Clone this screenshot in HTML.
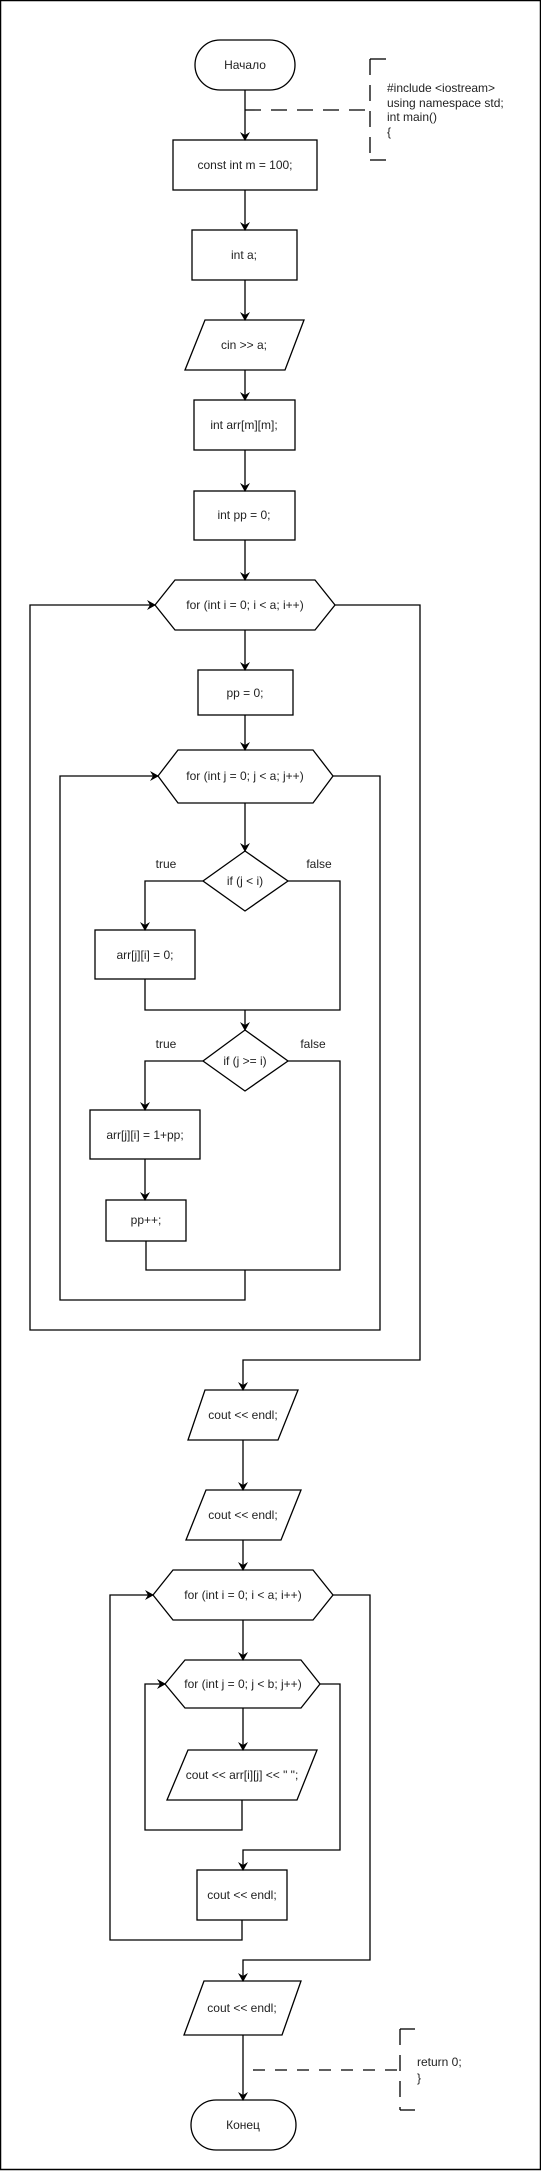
<!DOCTYPE html>
<html><head><meta charset="utf-8"><style>
html,body{margin:0;padding:0;background:#fff;}
svg{display:block;}
text{font-family:"Liberation Sans",Arial,sans-serif;font-size:12px;fill:#222;}
</style></head><body>
<svg width="541" height="2171" viewBox="0 0 541 2171" xmlns="http://www.w3.org/2000/svg">
<defs><marker id="a" markerWidth="10" markerHeight="10" refX="8" refY="5" orient="auto" markerUnits="userSpaceOnUse"><path d="M0,0 L9,5 L0,10 L3,5 Z" fill="#000"/></marker></defs>
<rect x="0.5" y="0.5" width="540" height="2169" fill="none" stroke="#000" stroke-width="1.5"/>
<g fill="#fff" stroke="#000" stroke-width="1.3">
<rect x="195" y="40" width="100" height="50" rx="25"/>
<rect x="173" y="140" width="144" height="50"/>
<rect x="192" y="230" width="105" height="50"/>
<polygon points="205,320 304,320 285,370 185,370"/>
<rect x="194" y="400" width="101" height="50"/>
<rect x="194" y="491" width="101" height="49"/>
<polygon points="155,605 175,580 315,580 335,605 315,630 175,630"/>
<rect x="198" y="670" width="95" height="45"/>
<polygon points="158,776 178,750 313,750 333,776 313,803 178,803"/>
<polygon points="245,851 288,881 245,911 203,881"/>
<rect x="95" y="930" width="100" height="49"/>
<polygon points="245,1030 288,1061 245,1091 203,1061"/>
<rect x="90" y="1110" width="110" height="49"/>
<rect x="106" y="1200" width="80" height="41"/>
<polygon points="205,1390 298,1390 278,1440 188,1440"/>
<polygon points="206,1490 301,1490 281,1540 186,1540"/>
<polygon points="153,1595 173,1570 313,1570 333,1595 313,1620 173,1620"/>
<polygon points="165,1684 185,1660 301,1660 320,1684 301,1708 185,1708"/>
<polygon points="188,1750 317,1750 297,1800 167,1800"/>
<rect x="197" y="1870" width="90" height="50"/>
<polygon points="204,1981 301,1981 282,2035 184,2035"/>
<rect x="191" y="2100" width="105" height="50" rx="25"/>
</g>
<g fill="none" stroke="#000" stroke-width="1.3">
<line x1="245" y1="90" x2="245" y2="140" marker-end="url(#a)"/>
<line x1="245" y1="190" x2="245" y2="230" marker-end="url(#a)"/>
<line x1="245" y1="280" x2="245" y2="320" marker-end="url(#a)"/>
<line x1="245" y1="370" x2="245" y2="400" marker-end="url(#a)"/>
<line x1="245" y1="450" x2="245" y2="491" marker-end="url(#a)"/>
<line x1="245" y1="540" x2="245" y2="580" marker-end="url(#a)"/>
<line x1="245" y1="630" x2="245" y2="670" marker-end="url(#a)"/>
<line x1="245" y1="715" x2="245" y2="750" marker-end="url(#a)"/>
<line x1="245" y1="803" x2="245" y2="851" marker-end="url(#a)"/>
<polyline points="203,881 145,881 145,930" marker-end="url(#a)"/>
<polyline points="145,979 145,1010 340,1010 340,881 288,881"/>
<line x1="245" y1="1010" x2="245" y2="1030" marker-end="url(#a)"/>
<polyline points="203,1061 145,1061 145,1110" marker-end="url(#a)"/>
<line x1="145" y1="1159" x2="145" y2="1200" marker-end="url(#a)"/>
<polyline points="146,1241 146,1270 340,1270 340,1061 288,1061"/>
<polyline points="245,1270 245,1300 60,1300 60,776 158,776" marker-end="url(#a)"/>
<polyline points="333,776 380,776 380,1330 30,1330 30,605 155,605" marker-end="url(#a)"/>
<polyline points="335,605 420,605 420,1360 243,1360 243,1390" marker-end="url(#a)"/>
<line x1="243" y1="1440" x2="243" y2="1490" marker-end="url(#a)"/>
<line x1="243" y1="1540" x2="243" y2="1570" marker-end="url(#a)"/>
<line x1="243" y1="1620" x2="243" y2="1660" marker-end="url(#a)"/>
<line x1="243" y1="1708" x2="243" y2="1750" marker-end="url(#a)"/>
<polyline points="242,1800 242,1830 145,1830 145,1684 165,1684" marker-end="url(#a)"/>
<polyline points="320,1684 340,1684 340,1850 243,1850 243,1870" marker-end="url(#a)"/>
<polyline points="242,1920 242,1940 110,1940 110,1595 153,1595" marker-end="url(#a)"/>
<polyline points="333,1595 370,1595 370,1960 243,1960 243,1981" marker-end="url(#a)"/>
<line x1="243" y1="2035" x2="243" y2="2100" marker-end="url(#a)"/>
<line x1="245" y1="110" x2="369" y2="110" stroke-dasharray="16,10"/>
<line x1="370" y1="59" x2="370" y2="160" stroke-dasharray="16,10"/>
<line x1="370" y1="59" x2="386" y2="59"/><line x1="370" y1="160" x2="386" y2="160"/>
<line x1="253" y1="2070" x2="400" y2="2070" stroke-dasharray="12,10"/>
<line x1="400" y1="2029" x2="400" y2="2110" stroke-dasharray="16,10"/>
<line x1="400" y1="2029" x2="415" y2="2029"/><line x1="400" y1="2110" x2="415" y2="2110"/>
</g>
<g text-anchor="middle">
<text x="245" y="69">Начало</text>
<text x="245" y="169">const int m = 100;</text>
<text x="244" y="259">int a;</text>
<text x="244" y="349">cin &gt;&gt; a;</text>
<text x="244" y="429">int arr[m][m];</text>
<text x="244" y="519">int pp = 0;</text>
<text x="245" y="609">for (int i = 0; i &lt; a; i++)</text>
<text x="245" y="697">pp = 0;</text>
<text x="245" y="780">for (int j = 0; j &lt; a; j++)</text>
<text x="245" y="885">if (j &lt; i)</text>
<text x="145" y="959">arr[j][i] = 0;</text>
<text x="245" y="1065">if (j &gt;= i)</text>
<text x="145" y="1139">arr[j][i] = 1+pp;</text>
<text x="146" y="1224">pp++;</text>
<text x="166" y="868">true</text><text x="319" y="868">false</text>
<text x="166" y="1048">true</text><text x="313" y="1048">false</text>
<text x="243" y="1419">cout &lt;&lt; endl;</text>
<text x="243" y="1519">cout &lt;&lt; endl;</text>
<text x="243" y="1599">for (int i = 0; i &lt; a; i++)</text>
<text x="243" y="1688">for (int j = 0; j &lt; b; j++)</text>
<text x="242" y="1779">cout &lt;&lt; arr[i][j] &lt;&lt; " ";</text>
<text x="242" y="1899">cout &lt;&lt; endl;</text>
<text x="242" y="2012">cout &lt;&lt; endl;</text>
<text x="243" y="2129">Конец</text>
</g>
<text x="387" y="92">#include &lt;iostream&gt;</text>
<text x="387" y="107">using namespace std;</text>
<text x="387" y="121">int main()</text>
<text x="387" y="136">{</text>
<text x="417" y="2066">return 0;</text>
<text x="417" y="2082">}</text>
</svg>
</body></html>
